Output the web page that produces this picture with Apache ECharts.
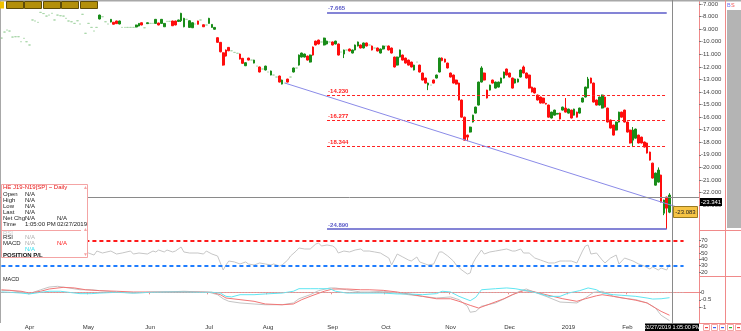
<!DOCTYPE html>
<html><head><meta charset="utf-8">
<script src="https://cdn.jsdelivr.net/npm/echarts@6/dist/echarts.min.js"></script>
<style>html,body{margin:0;padding:0;background:#fff}#c{width:741px;height:331px}</style>
</head><body><div id="c"></div>
<script>
// ---------- data ----------
const holidays = ['2018-03-30','2018-05-28','2018-07-04','2018-09-03','2018-11-22','2019-01-01','2019-01-21','2019-02-18'];
const candleCount = 239;   // trading days shown
const blankCount = 10;     // empty slots to the right
// [open, close, low, high]
const ohlc = [
[-9.71,-9.71,-9.71,-9.71],[-9.23,-9.23,-9.23,-9.23],[-9.07,-9.07,-9.07,-9.07],[-9.15,-9.15,-9.15,-9.15],[-9.63,-9.63,-9.63,-9.63],
[-9.60,-9.60,-9.60,-9.60],[-9.60,-9.60,-9.60,-9.60],[-10.00,-10.00,-10.00,-10.00],[-9.73,-9.73,-9.73,-9.73],[-10.00,-10.00,-10.00,-10.00],
[-10.26,-10.26,-10.26,-10.26],[-8.27,-8.27,-8.27,-8.27],[-8.35,-8.35,-8.35,-8.35],[-8.46,-8.46,-8.46,-8.46],[-7.665,-7.665,-7.665,-7.665],
[-7.76,-7.76,-7.76,-7.76],[-7.96,-7.96,-7.96,-7.96],[-7.88,-7.88,-7.88,-7.88],[-7.74,-7.74,-7.74,-7.74],[-8.27,-8.27,-8.27,-8.27],
[-7.88,-7.88,-7.88,-7.88],[-7.93,-7.93,-7.93,-7.93],[-7.96,-7.96,-7.96,-7.96],[-8.14,-8.14,-8.14,-8.14],[-8.35,-8.35,-8.35,-8.35],
[-8.41,-8.41,-8.41,-8.41],[-8.54,-8.54,-8.54,-8.54],[-8.33,-8.33,-8.33,-8.33],[-8.59,-8.59,-8.59,-8.59],[-7.82,-7.82,-7.82,-7.82],
[-9.33,-9.33,-9.33,-9.33],[-8.54,-8.54,-8.54,-8.54],[-8.86,-8.86,-8.86,-8.86],[-9.15,-9.15,-9.15,-9.15],[-8.86,-8.86,-8.86,-8.86],
[-8.19,-7.88,-8.22,-7.85],[-8.01,-8.01,-8.01,-8.01],[-8.41,-8.41,-8.41,-8.41],[-8.59,-8.59,-8.59,-8.59],[-8.43,-8.22,-8.46,-8.19],
[-8.45,-8.61,-8.63,-8.43],[-8.35,-8.56,-8.58,-8.33],[-8.59,-8.35,-8.61,-8.33],[-8.86,-8.86,-8.86,-8.86],[-8.86,-8.86,-8.86,-8.86],
[-8.86,-8.86,-8.86,-8.86],[-8.86,-8.86,-8.86,-8.86],[-8.86,-8.86,-8.86,-8.86],[-8.83,-8.67,-8.85,-8.65],[-8.75,-8.54,-8.77,-8.52],
[-8.49,-8.67,-8.69,-8.47],[-8.89,-8.89,-8.89,-8.89],[-8.56,-8.49,-8.58,-8.47],[-8.54,-8.54,-8.54,-8.54],[-8.54,-8.54,-8.54,-8.54],
[-8.54,-8.22,-8.56,-8.19],[-8.51,-8.67,-8.69,-8.49],[-8.54,-8.22,-8.56,-8.19],[-8.81,-8.54,-8.83,-8.51],[-8.38,-8.38,-8.38,-8.38],
[-8.38,-8.38,-8.38,-8.38],[-8.35,-8.73,-8.75,-8.33],[-8.35,-8.67,-8.69,-8.33],[-8.39,-8.27,-8.41,-8.25],[-8.33,-7.74,-8.43,-7.70],
[-8.81,-8.14,-8.85,-8.10],[-8.22,-8.22,-8.22,-8.22],[-8.86,-8.33,-8.88,-8.30],[-8.89,-8.49,-8.91,-8.46],[-8.59,-8.59,-8.59,-8.59],
[-8.35,-8.61,-8.63,-8.33],[-8.27,-8.27,-8.27,-8.27],[-8.65,-8.81,-8.83,-8.63],[-8.67,-8.67,-8.67,-8.67],[-8.54,-8.14,-8.56,-8.10],
[-8.86,-8.62,-8.88,-8.60],[-9.01,-8.86,-9.03,-8.84],[-9.68,-10.05,-10.08,-9.65],[-10.05,-10.80,-10.84,-10.02],[-10.88,-11.86,-11.90,-10.85],
[-10.66,-11.14,-11.18,-10.62],[-10.45,-10.72,-10.75,-10.42],[-10.72,-10.72,-10.72,-10.72],[-10.85,-10.85,-10.85,-10.85],[-10.92,-10.92,-10.92,-10.92],
[-10.98,-11.38,-11.41,-10.95],[-11.32,-11.72,-11.75,-11.29],[-11.91,-11.67,-11.94,-11.64],[-11.30,-11.46,-11.48,-11.28],[-11.46,-11.46,-11.46,-11.46],
[-11.70,-11.46,-11.72,-11.44],[-11.94,-11.94,-11.94,-11.94],[-12.01,-12.41,-12.44,-11.98],[-12.17,-12.17,-12.17,-12.17],[-12.25,-11.94,-12.28,-11.91],
[-12.41,-12.41,-12.41,-12.41],[-12.65,-12.33,-12.67,-12.30],[-12.65,-12.65,-12.65,-12.65],[-12.81,-12.81,-12.81,-12.81],[-12.73,-13.21,-13.24,-12.70],
[-13.37,-13.05,-13.40,-13.02],[-13.29,-13.29,-13.29,-13.29],[-12.97,-13.21,-13.24,-12.95],[-12.81,-12.81,-12.81,-12.81],[-12.41,-12.09,-12.44,-12.06],
[-12.09,-12.09,-12.09,-12.09],[-11.86,-11.06,-11.90,-11.02],[-11.22,-10.90,-11.25,-10.87],[-11.22,-10.98,-11.25,-10.95],[-11.14,-11.46,-11.49,-11.11],
[-11.62,-11.06,-11.65,-11.03],[-10.42,-11.06,-11.10,-10.38],[-9.95,-10.26,-10.29,-9.92],[-9.87,-10.18,-10.21,-9.84],[-10.02,-10.02,-10.02,-10.02],
[-10.26,-9.71,-10.29,-9.68],[-10.18,-9.95,-10.21,-9.92],[-10.02,-10.02,-10.02,-10.02],[-10.02,-10.26,-10.29,-9.99],[-10.18,-9.95,-10.21,-9.92],
[-10.18,-11.06,-11.09,-10.15],[-10.82,-10.82,-10.82,-10.82],[-10.98,-10.66,-11.30,-10.63],[-10.66,-10.66,-10.66,-10.66],[-10.58,-10.74,-10.77,-10.55],
[-10.90,-10.66,-10.93,-10.63],[-10.66,-10.26,-10.69,-10.23],[-10.34,-10.02,-10.37,-9.99],[-10.26,-10.50,-10.53,-10.23],[-10.50,-10.10,-10.53,-10.07],
[-10.10,-10.34,-10.37,-10.07],[-10.26,-10.26,-10.26,-10.26],[-10.34,-10.66,-10.69,-10.31],[-10.50,-10.50,-10.50,-10.50],[-10.50,-10.74,-10.77,-10.47],
[-10.90,-10.58,-10.93,-10.55],[-10.58,-10.34,-10.61,-10.31],[-10.34,-10.34,-10.34,-10.34],[-10.34,-10.66,-10.69,-10.31],[-10.50,-10.90,-10.93,-10.47],
[-11.22,-12.01,-12.05,-11.19],[-11.86,-11.22,-11.89,-11.19],[-11.22,-10.66,-11.25,-10.63],[-11.06,-11.46,-11.49,-11.03],[-11.30,-11.70,-11.73,-11.27],
[-11.46,-11.86,-11.89,-11.43],[-11.62,-12.01,-12.04,-11.59],[-12.25,-11.86,-12.28,-11.83],[-11.62,-11.62,-11.62,-11.62],[-11.86,-12.41,-12.44,-11.83],
[-12.49,-13.05,-13.08,-12.46],[-12.89,-13.29,-13.32,-12.86],[-13.45,-13.29,-13.85,-13.26],[-13.45,-13.45,-13.45,-13.45],[-13.05,-13.29,-13.32,-13.02],
[-12.89,-12.65,-12.92,-12.62],[-12.41,-11.30,-12.44,-11.27],[-11.30,-11.50,-11.55,-11.25],[-11.38,-11.62,-11.65,-11.35],[-11.70,-12.09,-12.12,-11.67],
[-12.49,-12.81,-12.84,-12.46],[-12.65,-13.29,-13.32,-12.62],[-13.05,-13.37,-13.40,-13.02],[-13.29,-14.64,-14.67,-13.26],[-14.64,-16.00,-16.03,-14.61],
[-16.00,-17.83,-17.86,-15.97],[-17.43,-17.59,-17.91,-17.40],[-17.19,-16.79,-17.22,-16.76],[-16.39,-15.84,-16.42,-15.81],[-15.68,-15.20,-15.71,-15.17],
[-15.04,-13.21,-15.07,-13.18],[-13.21,-12.09,-13.24,-11.95],[-12.49,-13.05,-13.08,-12.46],[-13.85,-14.48,-14.51,-13.82],[-13.85,-13.45,-13.88,-13.42],
[-13.05,-13.29,-13.32,-13.02],[-13.69,-13.21,-13.72,-13.18],[-13.61,-13.21,-13.64,-13.18],[-13.29,-12.89,-13.32,-12.86],[-12.89,-12.41,-12.92,-12.38],
[-12.17,-12.65,-12.68,-12.14],[-12.49,-12.81,-12.84,-12.46],[-12.89,-13.69,-13.72,-12.86],[-13.29,-12.97,-13.32,-12.94],[-13.21,-12.97,-13.24,-12.94],
[-12.81,-12.25,-12.84,-12.22],[-12.01,-12.49,-12.52,-11.90],[-12.49,-12.89,-12.92,-12.46],[-12.65,-13.69,-13.72,-12.62],[-13.61,-14.00,-14.03,-13.58],
[-13.69,-14.08,-14.11,-13.66],[-14.24,-14.64,-14.67,-14.21],[-14.40,-14.88,-14.91,-14.37],[-14.48,-14.88,-14.91,-14.45],[-14.90,-14.96,-14.99,-14.87],
[-15.04,-16.00,-16.03,-15.01],[-16.07,-15.60,-16.10,-15.57],[-15.84,-15.44,-15.87,-15.41],[-15.76,-15.70,-15.79,-15.67],[-15.68,-16.15,-16.18,-15.65],
[-15.44,-15.20,-15.47,-15.17],[-15.28,-15.60,-15.63,-14.48],[-15.68,-15.36,-15.71,-15.33],[-15.44,-16.07,-16.10,-15.41],[-15.84,-15.36,-15.87,-15.33],
[-15.60,-16.00,-16.03,-15.57],[-15.68,-15.28,-15.71,-15.25],[-14.80,-14.48,-14.83,-14.45],[-14.40,-13.61,-14.43,-13.58],[-13.69,-12.97,-13.72,-12.80],
[-12.89,-13.29,-13.32,-12.86],[-13.29,-14.80,-14.83,-13.26],[-14.64,-15.04,-15.07,-14.61],[-15.04,-14.40,-15.07,-14.37],[-15.28,-14.24,-15.31,-14.21],
[-14.40,-15.20,-15.23,-14.37],[-15.28,-16.39,-16.42,-15.25],[-16.23,-16.87,-16.90,-16.20],[-16.63,-17.43,-17.46,-16.60],[-17.03,-16.39,-17.06,-16.36],
[-16.39,-15.60,-16.42,-15.57],[-15.60,-16.00,-16.03,-15.57],[-15.44,-16.39,-16.42,-15.41],[-16.39,-17.19,-17.22,-16.36],[-17.03,-18.06,-18.09,-17.00],
[-17.83,-17.03,-18.38,-16.79],[-17.67,-16.95,-17.70,-16.92],[-17.43,-18.06,-18.09,-17.40],[-17.59,-18.06,-18.09,-17.56],[-17.98,-18.38,-18.41,-17.95],
[-18.06,-18.86,-18.89,-18.03],[-18.78,-19.42,-19.45,-18.75],[-19.66,-20.85,-20.88,-19.63],[-21.41,-20.45,-21.44,-20.42],[-21.17,-20.21,-21.20,-20.00],
[-20.61,-22.76,-22.79,-20.58],[-23.64,-22.60,-23.80,-22.57],[-22.36,-23.24,-24.89,-22.33],[-23.56,-22.20,-23.64,-22.05]
];
// RSI [candle index, value]
const rsi = [[29,52],[31,50],[33,46.8],[34,53.1],[36,50],[39,53.1],[41,48.4],[43,50],[46,53.1],[47,48.4],[49,50],[52,48.4],[54,53.1],[55,51.6],[56,54.7],[58,51.6],[59,54.7],[61,51.6],[62,53.1],[64,59.4],[65,51.6],[67,50],[70,50],[72,48.4],[73,53.1],[75,48.4],[77,45.3],[78,34.3],[79,23.2],[80,31.1],[81,37.4],[83,35.9],[85,32.7],[87,35.9],[88,32.7],[90,31.1],[92,34.3],[94,32.7],[96,31.1],[97,32.7],[99,29.5],[100,31.1],[102,39],[103,45.3],[105,53.1],[106,57.9],[108,56.3],[110,56.3],[112,64.2],[113,65.7],[114,61],[116,62.6],[118,61],[119,57.9],[120,50],[122,53.1],[124,51.6],[126,54.7],[128,56.3],[129,53.1],[131,53.1],[133,51.6],[135,50],[138,42.1],[139,31.1],[141,48.4],[143,43.7],[145,39],[146,37.4],[148,43.7],[149,35.9],[151,32.7],[152,31.1],[154,32.7],[156,51.6],[157,51.6],[159,45.3],[161,37.4],[162,31.1],[164,23.2],[166,16.9],[167,18.5],[168,34.3],[169,42.1],[171,54.7],[172,48.4],[174,51.6],[176,53.1],[178,54.7],[180,56.3],[182,53.1],[183,53.1],[185,56.3],[186,50],[188,50],[190,42.1],[192,39],[193,37.4],[195,34.3],[197,34.3],[199,37.4],[201,37.4],[203,37.4],[205,34.3],[207,53.1],[208,61],[209,62.6],[210,48.4],[212,50],[214,39],[215,34.3],[217,42.1],[219,46.8],[220,32.7],[222,42.1],[224,39],[225,37.4],[227,32.7],[229,29.5],[231,24.8],[232,28],[234,23.2],[235,26.4],[237,23.2],[238,32.7]];
// MACD lines [candle index, value]
const macdGray = [[0,0.11],[3,0.13],[7,0.02],[10,-0.09],[14,0.17],[17,0.35],[20,0.40],[24,0.29],[28,0.17],[32,0.17],[35,0.11],[41,0.02],[47,-0.05],[53,0],[59,0.02],[65,0.07],[71,0.02],[74,0],[77,-0.16],[79,-0.43],[81,-0.6],[85,-0.71],[90,-0.78],[94,-0.83],[100,-0.83],[104,-0.71],[106,-0.43],[110,-0.16],[113,0.11],[117,0.29],[119,0.29],[123,0.17],[128,0.02],[131,0.02],[136,0.07],[141,-0.05],[145,-0.16],[150,-0.27],[155,-0.38],[160,-0.31],[163,-0.49],[166,-0.93],[167,-1.33],[169,-1.27],[171,-0.93],[176,-0.71],[181,-0.27],[185,0.11],[187,0.22],[189,0.07],[194,-0.27],[199,-0.65],[205,-0.71],[208,-0.38],[211,0],[214,0.07],[218,-0.27],[221,-0.38],[226,-0.49],[230,-0.71],[233,-1.05],[235,-1.53],[238,-1.89]];
const macdRed = [[0,0.17],[3,0.13],[7,0.07],[10,-0.05],[14,0.07],[17,0.22],[22,0.33],[26,0.29],[30,0.17],[35,0.11],[41,0.07],[47,0.02],[53,0.02],[59,0.02],[65,0.02],[71,0.02],[75,0],[78,-0.16],[80,-0.38],[85,-0.49],[90,-0.6],[94,-0.78],[100,-0.83],[104,-0.78],[107,-0.49],[111,-0.2],[115,0.07],[118,0.22],[123,0.22],[128,0.17],[131,0.17],[136,0.13],[141,0.02],[145,-0.11],[150,-0.27],[155,-0.43],[160,-0.43],[163,-0.6],[167,-0.87],[170,-1.05],[174,-0.78],[179,-0.43],[182,-0.16],[186,0.11],[189,0.07],[194,-0.16],[200,-0.43],[205,-0.6],[208,-0.43],[212,-0.23],[214,-0.16],[218,-0.27],[223,-0.43],[226,-0.53],[230,-0.71],[233,-1.05],[235,-1.27],[238,-1.53]];
const macdCyan = [[0,0.02],[3,0],[7,-0.05],[10,-0.11],[14,0],[17,0.07],[21,0.07],[24,0],[28,-0.09],[32,-0.09],[35,-0.05],[41,0],[47,-0.05],[53,0],[59,0.02],[65,0.02],[71,0],[75,0],[78,-0.05],[80,-0.27],[82,-0.31],[85,-0.16],[90,-0.16],[94,-0.11],[100,-0.05],[104,0.07],[106,0.24],[110,0.24],[113,0.24],[117,0.24],[119,0.07],[123,-0.05],[128,-0.05],[131,-0.05],[136,-0.05],[141,-0.11],[145,-0.11],[150,-0.16],[155,-0.09],[157,0.07],[160,0.02],[163,-0.27],[167,-0.56],[169,-0.33],[171,0.17],[176,0.24],[180,0.29],[183,0.24],[187,0.11],[191,-0.05],[195,-0.27],[199,-0.27],[202,-0.05],[206,0.11],[209,0.29],[212,0.17],[214,-0.05],[218,-0.16],[221,-0.2],[226,-0.27],[230,-0.38],[232,-0.45],[235,-0.43],[238,-0.36]];
const priceTicks = [-7,-8,-9,-10,-11,-12,-13,-14,-15,-16,-17,-18,-19,-20,-21,-22,-23];
const rsiTicks = [20,30,40,50,60,70];
const macdTicks = [0,-0.5,-1];
const fibLevels = [-14.230,-16.277,-18.344];
const rangeHigh = -7.665, rangeLow = -24.890;
const fibSpan = [116, 237];
const trendStart = [101, -13.29], trendEnd = [248, -23.67];
const rsiLevels = [70, 30];
const lastPrice = '-23.083', crossPrice = '-23.341', crossTime = '02/27/2019 1:05:00 PM';

// ---------- build ----------
const dates = [];
(function(){ const d = new Date(Date.UTC(2018,2,16));
  while (dates.length < candleCount + blankCount) {
    const s = d.toISOString().slice(0,10), wd = d.getUTCDay();
    if (wd !== 0 && wd !== 6 && !holidays.includes(s)) dates.push(s);
    d.setUTCDate(d.getUTCDate()+1);
  }})();
const monthStart = dates.map((s,i)=> i>0 && i<candleCount && s.slice(5,7)!==dates[i-1].slice(5,7));
const MON = ['Jan','Feb','Mar','Apr','May','Jun','Jul','Aug','Sep','Oct','Nov','Dec'];
const FONT = 'Liberation Sans, Arial, sans-serif';
const RED_AX = '#f08a8a';

const pale = '#a9d6a9';
const candleData = ohlc.map(r => (r[0]===r[1] && r[2]===r[3])
  ? {value:r, itemStyle:{color:pale,color0:pale,borderColor:pale,borderColor0:pale}} : r);

const lineLbl = (c)=>({show:true, position:'insideStartTop', color:c, fontSize:6, fontFamily:FONT, distance:1, fontWeight:'bold'});
const hLine = (v, color, type, width, label) => [
  {coord:[fibSpan[0], v], lineStyle:{color, type, width}, label: label ? Object.assign(lineLbl(color), {formatter: v.toFixed(3)}) : {show:false}},
  {coord:[fibSpan[1], v]}];

const chart = echarts.init(document.getElementById('c'), null, {renderer:'canvas'});
const xBase = (gi, show) => ({
  type:'category', gridIndex:gi, data:dates, boundaryGap:true, show:show,
  axisLine:{show:show, lineStyle:{color:RED_AX, width:1}},
  axisTick:{show:show, interval:(i)=>monthStart[i], length:2, lineStyle:{color:RED_AX}},
  axisLabel:{show:show, interval:(i)=>monthStart[i], margin:1, fontSize:6, fontFamily:FONT, color:'#333',
    formatter:(v)=>{ const m = +v.slice(5,7); return m===1 ? v.slice(0,4) : MON[m-1]; }},
  splitLine:{show:false}
});
const yBase = (gi, min, max, ticks, fmt) => ({
  type:'value', gridIndex:gi, position:'right', min, max, scale:true,
  axisLine:{show:true, lineStyle:{color:RED_AX, width:1}},
  axisTick:{show:true, length:2, customValues:ticks, lineStyle:{color:'#777'}},
  axisLabel:{show:true, customValues:ticks, margin:2, fontSize:6, fontFamily:FONT, color:'#444', formatter:fmt},
  splitLine:{show:false}
});

const option = {
  animation:false,
  backgroundColor:'#fff',
  grid:[
    {left:0, top:0, width:699, height:230},
    {left:0, top:230, width:699, height:46},
    {left:0, top:276, width:699, height:47}
  ],
  xAxis:[xBase(0,false), xBase(1,false), xBase(2,true)],
  yAxis:[
    yBase(0, -24.98, -6.68, priceTicks, v=>v.toFixed(3)),
    yBase(1, 13.8, 86.2, rsiTicks, v=>String(v)),
    yBase(2, -2.047, 1.087, macdTicks, v=>String(v))
  ],
  series:[
    { type:'candlestick', xAxisIndex:0, yAxisIndex:0, data:candleData, barWidth:2.2,
      itemStyle:{color:'#198c19', color0:'#ff0d0d', borderColor:'#198c19', borderColor0:'#ff0d0d', borderWidth:1},
      markLine:{ silent:true, symbol:['none','none'], animation:false,
        data:[
          ...fibLevels.map(v=>hLine(v, '#ff2222', [3,2], 1, true)),
          hLine(rangeHigh, '#5b5bc8', 'solid', 1.5, true),
          hLine(rangeLow, '#5b5bc8', 'solid', 1.5, true),
          [{coord:trendStart, lineStyle:{color:'#8b8be8', width:1, type:'solid'}, label:{show:false}}, {coord:trendEnd}]
        ]}
    },
    { type:'line', xAxisIndex:1, yAxisIndex:1, data:rsi, symbol:'none', lineStyle:{color:'#c6c6c6', width:1},
      markLine:{ silent:true, symbol:['none','none'], animation:false,
        data:[
          [{coord:[0, rsiLevels[0]], lineStyle:{color:'#ff1a1a', type:[4,3], width:2}, label:{show:false}}, {coord:[243, rsiLevels[0]]}],
          [{coord:[0, rsiLevels[1]], lineStyle:{color:'#1f7dff', type:[4,3], width:2}, label:{show:false}}, {coord:[243, rsiLevels[1]]}]
        ]}
    },
    { type:'line', xAxisIndex:2, yAxisIndex:2, data:macdGray, symbol:'none', lineStyle:{color:'#c4c4c4', width:1},
      markLine:{ silent:true, symbol:['none','none'], animation:false,
        data:[[{coord:[0,0], lineStyle:{color:'#bdbdbd', type:[1,2], width:1}, label:{show:false}}, {coord:[243,0]}]]}
    },
    { type:'line', xAxisIndex:2, yAxisIndex:2, data:macdRed, symbol:'none', lineStyle:{color:'#f27676', width:1} },
    { type:'line', xAxisIndex:2, yAxisIndex:2, data:macdCyan, symbol:'none', lineStyle:{color:'#5fe6f2', width:1} }
  ]
};
chart.setOption(option);

// ---------- chrome / decorations ----------
const T = (text, x, y, fill, opts={}) => Object.assign({type:'text', z:120, style:Object.assign({text, x, y, fill, fontSize:6, fontFamily:FONT, verticalAlign:'middle'}, opts)});
const R = (x,y,w,h,fill,stroke,z=110) => ({type:'rect', z, shape:{x,y,width:w,height:h}, style:{fill, stroke: stroke||null, lineWidth:1}});
const L = (x1,y1,x2,y2,stroke,w=1,z=110) => ({type:'line', z, shape:{x1,y1,x2,y2}, style:{stroke, lineWidth:w}});

const g = [];
// frame
g.push(R(0,0,741,1.5,'#a8a8a8'));
g.push(R(0,0,1,323,'#a8a8a8'));
g.push(L(725.5,0,725.5,323,RED_AX));
g.push(L(699,230.5,741,230.5,RED_AX));
g.push(L(699,276.5,741,276.5,RED_AX));
g.push(L(699,323.5,741,323.5,RED_AX));
g.push(R(727,10,14,218,'#b4b4b4'));
g.push(T('B',727,5,'#6a6af0',{fontSize:5.5}));
g.push(T('S',731,5,'#f05050',{fontSize:5.5}));
// gold buttons
g.push(R(0,1.5,4,7,'#f2c200'));
[6,24,43,61,80].forEach(x=>g.push(R(x+0.5,1.5,17,7,'#b38f0a','#5e4c08')));
// crosshair
g.push(L(672.5,0,672.5,323,'#8a8a8a'));
g.push(L(0,197.5,699,197.5,'#8a8a8a'));
g.push(R(700,198,22,8,'#000'));
g.push(T(crossPrice,711,202,'#fff',{align:'center'}));
g.push(R(673.5,206.5,24,11,'#f6c445','#9a7a20'));
g.push(T(lastPrice,685.5,212,'#222',{align:'center'}));
// timestamp + buttons
g.push(R(645,323.5,54,7.5,'#000'));
g.push(T(crossTime,672,327.3,'#fff',{align:'center',fontSize:5.5}));
[['#f04040',703],['#4060f0',711],['#4060f0',719],['#30b030',727],['#f04040',735]].forEach(([c,x])=>{
  g.push(R(x+0.5,324.5,6,6,'#fff','#f4a4a4'));
  g.push(R(x+2,327,3,1.2,c));
});
// MACD title
g.push(T('MACD',3,279.5,'#222',{fontSize:5.5}));
// info box
g.push(R(1.5,184.5,86,73,'#fff','#f4a4a4',115));
g.push(T('HE J19-N19[SP] ~ Daily',3,187.5,'#e81414'));
g.push(T('▲',83,187.5,'#f4a4a4',{fontSize:5}));
const rows = [['Open',194],['High',200],['Low',206],['Last',212],['Net Chg',218],['Time',224]];
rows.forEach(([t,y])=>{ g.push(T(t,3,y,'#222')); });
['N/A','N/A','N/A','N/A','N/A'].forEach((t,i)=>g.push(T(t,25,194+6*i,'#222')));
g.push(T('N/A',57,218,'#222'));
g.push(T('1:05:00 PM',25,224,'#222'));
g.push(T('02/27/2019',57,224,'#222'));
g.push(L(2,230.5,81,230.5,'#f4a4a4',1,116));
g.push(T('▲',83,230,'#f4a4a4',{fontSize:5}));
g.push(T('RSI',3,233.3,'#c8c8c8'));
g.push(T('RSI',3,237.5,'#222'));
g.push(T('N/A',25,237.5,'#b0b0b0'));
g.push(T('MACD',3,243,'#222'));
g.push(T('N/A',25,243,'#b0b0b0'));
g.push(T('N/A',57,243,'#ff2020'));
g.push(T('N/A',25,249,'#30e0f0'));
g.push(T('POSITION P/L',3,255,'#111',{fontWeight:'bold'}));
g.push(T('▼',83,255,'#f4a4a4',{fontSize:5}));
chart.setOption({graphic:g});
</script></body></html>
